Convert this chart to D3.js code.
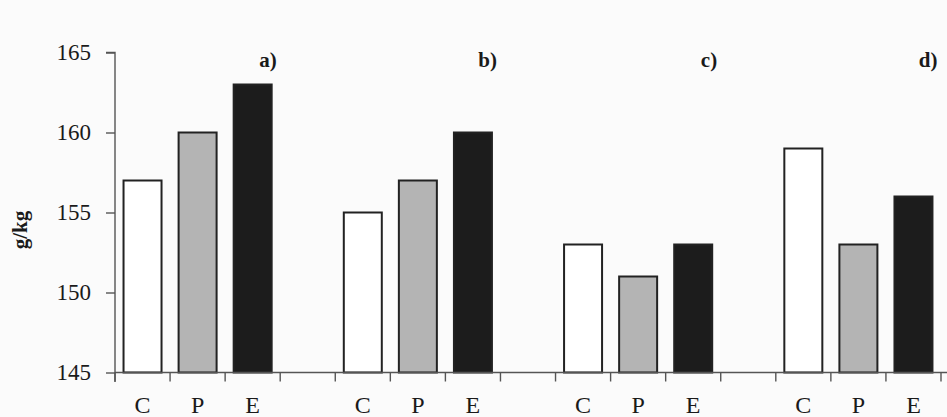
<!DOCTYPE html>
<html lang="en">
<head>
    <meta charset="UTF-8">
    <script src="https://cdn.jsdelivr.net/npm/d3@7"></script>
    <title>g/kg bars</title>
    <style>
        body { margin: 0; background: #fbfbfb; }
        svg text { font-family: "Liberation Serif", "DejaVu Serif", serif; fill: #1a1a1a; }
    </style>
</head>
<body>
    <div id="chart"></div>
    <script>
        // values
        const panels = ["a)", "b)", "c)", "d)"];
        const treatments = ["C", "P", "E"];
        const valuesA = [157, 160, 163];
        const valuesB = [155, 157, 160];
        const valuesC = [153, 151, 153];
        const valuesD = [159, 153, 156];
        const yTicks = [145, 150, 155, 160, 165];
        const fills = { C: "#ffffff", P: "#b4b4b4", E: "#1c1c1c" };

        const series = [valuesA, valuesB, valuesC, valuesD];

        const width = 947, height = 417;
        const svg = d3.select("#chart").append("svg")
            .attr("width", width)
            .attr("height", height);

        // one slot per bar, plus an empty slot between panels
        const slots = [];
        const bars = [];
        panels.forEach((p, i) => {
            treatments.forEach((t, j) => {
                const key = p + t;
                slots.push(key);
                bars.push({ key: key, panel: p, t: t, value: series[i][j] });
            });
            if (i < panels.length - 1) slots.push(p + "gap");
        });

        const pad = 0.31;
        const x = d3.scaleBand()
            .domain(slots)
            .range([115, 941])
            .paddingInner(pad)
            .paddingOuter(pad / 2);

        const y = d3.scaleLinear()
            .domain([145, 165])
            .range([372.5, 52.5]);

        const step = x.step();
        const edge = s => x(s) - step * pad / 2;

        // bars
        svg.append("g").selectAll("rect")
            .data(bars)
            .enter()
            .append("rect")
            .attr("x", d => x(d.key))
            .attr("y", d => y(d.value))
            .attr("width", x.bandwidth())
            .attr("height", d => y(145) - y(d.value))
            .attr("fill", d => fills[d.t])
            .attr("stroke", "#222")
            .attr("stroke-width", 2);

        // y axis
        const yAxis = d3.axisLeft(y)
            .tickValues(yTicks)
            .tickSize(9)
            .tickPadding(15);
        const gy = svg.append("g")
            .attr("transform", "translate(115,0)")
            .call(yAxis);
        gy.select(".domain").attr("stroke", "#555").attr("stroke-width", 1.4).attr("d", "M-9,52.5H0V382");
        gy.selectAll(".tick line").attr("stroke", "#555").attr("stroke-width", 1.4);
        gy.selectAll(".tick text")
            .attr("font-size", 23)
            .style("font-family", "Liberation Serif, serif")
            .attr("fill", "#222");

        // x axis line with ticks at slot edges
        const tickPos = slots.map(edge).concat([edge(slots[slots.length - 1]) + step]);
        svg.append("line")
            .attr("x1", 115).attr("x2", width)
            .attr("y1", y(145)).attr("y2", y(145))
            .attr("stroke", "#555").attr("stroke-width", 1.4);
        svg.append("g").selectAll("line")
            .data(tickPos)
            .enter()
            .append("line")
            .attr("x1", d => d).attr("x2", d => d)
            .attr("y1", y(145)).attr("y2", y(145) + 9)
            .attr("stroke", "#555").attr("stroke-width", 1.4);

        // category labels
        svg.append("g").selectAll("text")
            .data(bars)
            .enter()
            .append("text")
            .attr("x", d => x(d.key) + x.bandwidth() / 2)
            .attr("y", 413)
            .attr("text-anchor", "middle")
            .attr("font-size", 24)
            .text(d => d.t);

        // panel labels
        svg.append("g").selectAll("text")
            .data(panels)
            .enter()
            .append("text")
            .attr("x", p => x(p + "E") + x.bandwidth() + 5)
            .attr("y", 67)
            .attr("text-anchor", "end")
            .attr("font-size", 21)
            .attr("font-weight", "bold")
            .text(p => p);

        // y label
        svg.append("text")
            .attr("transform", "translate(27,230) rotate(-90)")
            .attr("text-anchor", "middle")
            .attr("font-size", 21)
            .attr("font-weight", "bold")
            .text("g/kg");
    </script>
</body>
</html>
